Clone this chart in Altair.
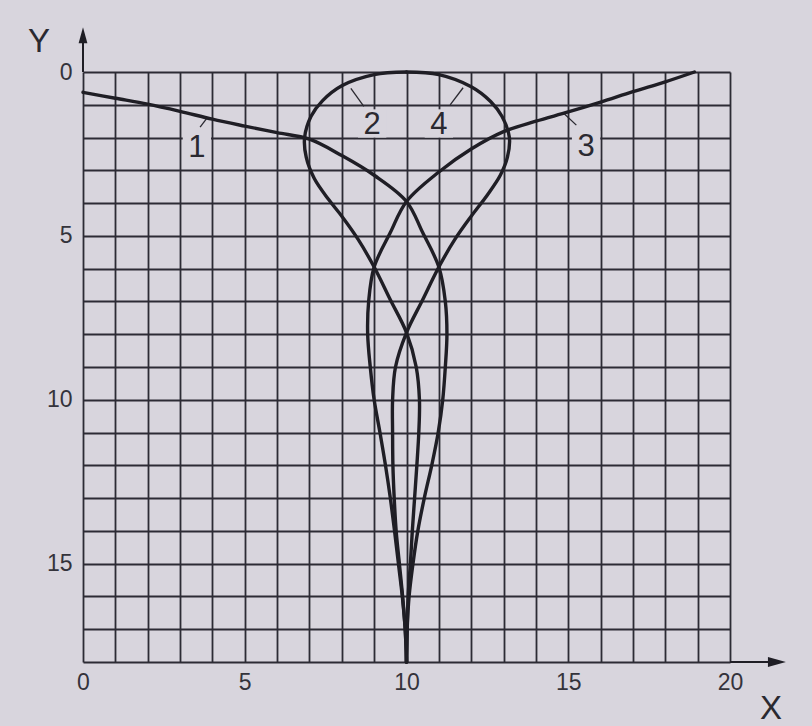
import altair as alt
import pandas as pd

# ---- traced paths (x across, y = depth, 0 at the top) ----
c1_x = [0.0, 1.0, 2.0, 3.0, 4.0, 5.0, 6.0, 7.0, 8.0, 9.0, 10.0, 10.5, 11.0, 11.2, 11.25,
        11.2, 11.12, 10.98, 10.78, 10.55, 10.35, 10.2, 10.08, 10.02, 10.0]
c1_y = [0.62, 0.8, 0.98, 1.2, 1.44, 1.65, 1.85, 2.05, 2.55, 3.15, 3.95, 4.9, 5.95, 7.0, 8.0,
        9.0, 10.0, 11.0, 12.0, 13.0, 14.0, 15.0, 16.0, 17.0, 18.0]

c2_x = [10.0, 9.0, 8.0, 7.4, 7.05, 6.85, 6.9, 7.15, 7.6, 8.0, 8.5, 9.0, 9.5, 10.0,
        10.3, 10.4, 10.38, 10.32, 10.25, 10.18, 10.12, 10.05, 10.02, 10.0]
c2_y = [0.0, 0.08, 0.42, 0.88, 1.35, 2.0, 2.6, 3.25, 3.9, 4.4, 5.1, 5.95, 6.95, 7.95,
        9.0, 10.0, 11.0, 12.0, 13.0, 14.0, 15.0, 16.0, 17.0, 18.0]

c3_x = [18.9, 18.0, 17.0, 16.0, 15.0, 14.0, 13.0, 12.0, 11.0, 10.0, 9.5, 9.0, 8.83, 8.8,
        8.88, 9.0, 9.18, 9.35, 9.5, 9.63, 9.75, 9.87, 9.96, 10.0]
c3_y = [0.0, 0.3, 0.6, 0.92, 1.22, 1.5, 1.82, 2.35, 3.05, 3.95, 4.9, 5.95, 7.0, 8.0,
        9.0, 10.0, 11.0, 12.0, 13.0, 14.0, 15.0, 16.0, 17.0, 18.0]

c4_x = [10.0, 11.0, 12.0, 12.6, 12.95, 13.18, 13.12, 12.9, 12.5, 12.0, 11.5, 11.0, 10.5, 10.0,
        9.66, 9.57, 9.57, 9.58, 9.62, 9.68, 9.78, 9.88, 9.96, 10.0]
c4_y = [0.0, 0.08, 0.45, 0.9, 1.35, 2.0, 2.6, 3.15, 3.75, 4.4, 5.1, 5.95, 6.95, 7.95,
        9.0, 10.0, 11.0, 12.0, 13.0, 14.0, 15.0, 16.0, 17.0, 18.0]

# curve numbers and where they are written
label_text = ["1", "2", "3", "4"]
label_x = [3.52, 8.94, 15.55, 11.0]
label_y = [2.27, 1.57, 2.23, 1.57]

# short leader strokes from each number to its curve
leader_x0 = [3.62, 8.68, 15.25, 11.35]
leader_y0 = [1.68, 1.05, 1.62, 1.0]
leader_x1 = [3.82, 8.28, 14.85, 11.75]
leader_y1 = [1.42, 0.5, 1.25, 0.48]

x_ticks = list(range(0, 21))
y_ticks = list(range(0, 19))

PAPER = "#d8d5dd"
INK = "#1f1e25"
FONT = "Liberation Sans"

rows = []
for name, xs, ys in [("1", c1_x, c1_y), ("2", c2_x, c2_y), ("3", c3_x, c3_y), ("4", c4_x, c4_y)]:
    for i, (xv, yv) in enumerate(zip(xs, ys)):
        rows.append({"curve": name, "x": xv, "y": yv, "i": i})
curves = pd.DataFrame(rows)

labels = pd.DataFrame({"t": label_text, "x": label_x, "y": label_y})
leaders = pd.DataFrame({"x": leader_x0, "y": leader_y0, "x2": leader_x1, "y2": leader_y1})

x_scale = alt.Scale(domain=[0, 20], nice=False, zero=False)
y_scale = alt.Scale(domain=[0, 18], reverse=True, nice=False, zero=False)

common_axis = dict(
    grid=True, gridColor="#2c2b34", gridWidth=1.8, gridOpacity=1,
    ticks=False, domain=False, labelFont=FONT, labelFontSize=23,
    labelColor="#34333b", labelFlush=False, labelOverlap=False, labelBound=False,
    labelExpr="datum.value % 5 === 0 ? datum.label : ''", title=None,
)
X = alt.X("x:Q", scale=x_scale,
          axis=alt.Axis(values=x_ticks, labelPadding=9, **common_axis))
Y = alt.Y("y:Q", scale=y_scale,
          axis=alt.Axis(values=y_ticks, labelPadding=11, **common_axis))

lines = alt.Chart(curves).mark_line(
    interpolate="catmull-rom", strokeWidth=3.4, color=INK,
    strokeCap="round", strokeJoin="round",
).encode(x=X, y=Y, detail="curve:N", order="i:Q")

# paper-coloured patches that break the grid behind each number
patches = alt.Chart(labels).mark_point(
    shape="square", filled=True, size=800, color=PAPER, opacity=1, strokeWidth=0,
).encode(x=X, y=Y)

numbers = alt.Chart(labels).mark_text(
    font=FONT, fontSize=31, color="#2a2930", align="center", baseline="middle", dy=2,
).encode(x=X, y=Y, text="t:N")

leader_marks = alt.Chart(leaders).mark_rule(strokeWidth=1.3, color="#2a2930").encode(
    x=X, y=Y, x2="x2:Q", y2="y2:Q")

# axis arrows extending past the grid
y_arrow_line = alt.Chart(pd.DataFrame({"x": [0.0], "y": [0.0], "y2": [-1.1]})).mark_rule(
    strokeWidth=2, color=INK).encode(x=X, y=Y, y2="y2:Q")
x_arrow_line = alt.Chart(pd.DataFrame({"x": [20.0], "x2": [21.4], "y": [18.0]})).mark_rule(
    strokeWidth=2, color=INK).encode(x=X, x2="x2:Q", y=Y)
y_head = alt.Chart(pd.DataFrame({"x": [0.0], "y": [-1.12]})).mark_point(
    shape="M0,-1L0.55,1L-0.55,1Z", filled=True, size=256, color=INK, opacity=1, strokeWidth=0,
).encode(x=X, y=Y)
x_head = alt.Chart(pd.DataFrame({"x": [21.45], "y": [18.0]})).mark_point(
    shape="M1,0L-1,0.55L-1,-0.55Z", filled=True, size=324, color=INK, opacity=1, strokeWidth=0,
).encode(x=X, y=Y)

axis_names = alt.Chart(pd.DataFrame({"t": ["Y", "X"], "x": [-1.36, 21.27], "y": [-0.98, 19.36]})).mark_text(
    font=FONT, fontSize=33, color="#2a2930", align="center", baseline="middle", dy=2,
).encode(x=X, y=Y, text="t:N")

chart = alt.layer(
    patches, leader_marks, lines, numbers,
    y_arrow_line, x_arrow_line, y_head, x_head, axis_names,
).properties(
    width=647, height=590,
    autosize=alt.AutoSizeParams(type="none"),
    padding={"left": 83, "top": 72, "right": 82, "bottom": 64},
    background=PAPER,
).configure_view(strokeWidth=0)

chart.save("out.html", embed_options={"renderer": "svg", "actions": False})
